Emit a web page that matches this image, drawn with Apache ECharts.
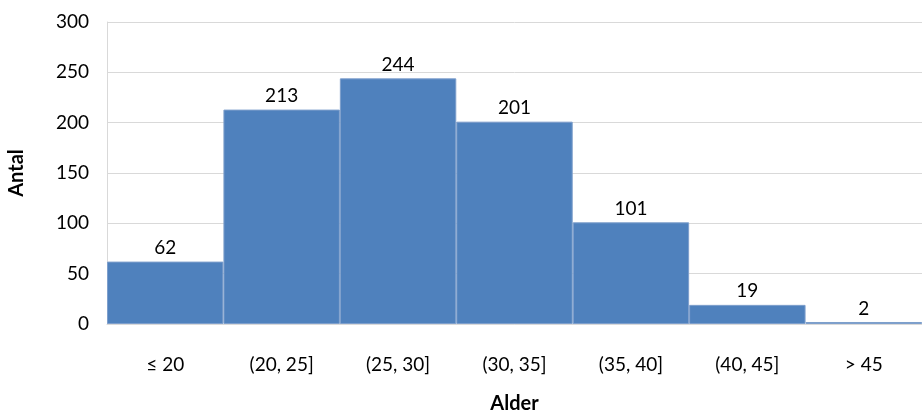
<!DOCTYPE html>
<html><head><meta charset="utf-8">
<script src="https://cdn.jsdelivr.net/npm/echarts@6/dist/echarts.min.js"></script>
<style>html,body{margin:0;padding:0;background:#fff}#c{width:922px;height:417px}</style>
</head><body><div id="c"></div>
<script>
const categories = ['≤ 20', '(20, 25]', '(25, 30]', '(30, 35]', '(35, 40]', '(40, 45]', '> 45'];
const counts = [62, 213, 244, 201, 101, 19, 2];
const yTicks = [0, 50, 100, 150, 200, 250, 300];
const font = 'Lato, "Open Sans", sans-serif';
const chart = echarts.init(document.getElementById('c'));
chart.setOption({
  animation: false,
  grid: {left: 107, right: 0, top: 22, bottom: 93, containLabel: false, outerBoundsMode: 'none'},
  xAxis: {
    type: 'category', data: categories,
    name: 'Alder', nameLocation: 'middle', nameGap: 70,
    nameTextStyle: {fontFamily: font, fontSize: 20, fontWeight: 'bold', color: '#000'},
    axisLine: {lineStyle: {color: '#d9d9d9', width: 1}},
    axisTick: {show: false},
    axisLabel: {fontFamily: font, fontSize: 19, color: '#000', margin: 31}
  },
  yAxis: {
    type: 'value', min: yTicks[0], max: yTicks[yTicks.length - 1], interval: 50,
    name: 'Antal', nameLocation: 'middle', nameGap: 80,
    nameTextStyle: {fontFamily: font, fontSize: 20, fontWeight: 'bold', color: '#000'},
    axisLine: {show: true, lineStyle: {color: '#d9d9d9', width: 1}},
    axisTick: {show: false},
    splitLine: {lineStyle: {color: '#d9d9d9', width: 1}},
    axisLabel: {fontFamily: font, fontSize: 19, color: '#000', margin: 18}
  },
  series: [{
    type: 'bar', data: counts, barWidth: '100%', barCategoryGap: '0%',
    itemStyle: {color: '#4f81bd', borderColor: '#7e9fcc', borderWidth: 1},
    label: {show: true, position: 'top', distance: 4, fontFamily: font, fontSize: 19, color: '#000'}
  }]
});
</script></body></html>
